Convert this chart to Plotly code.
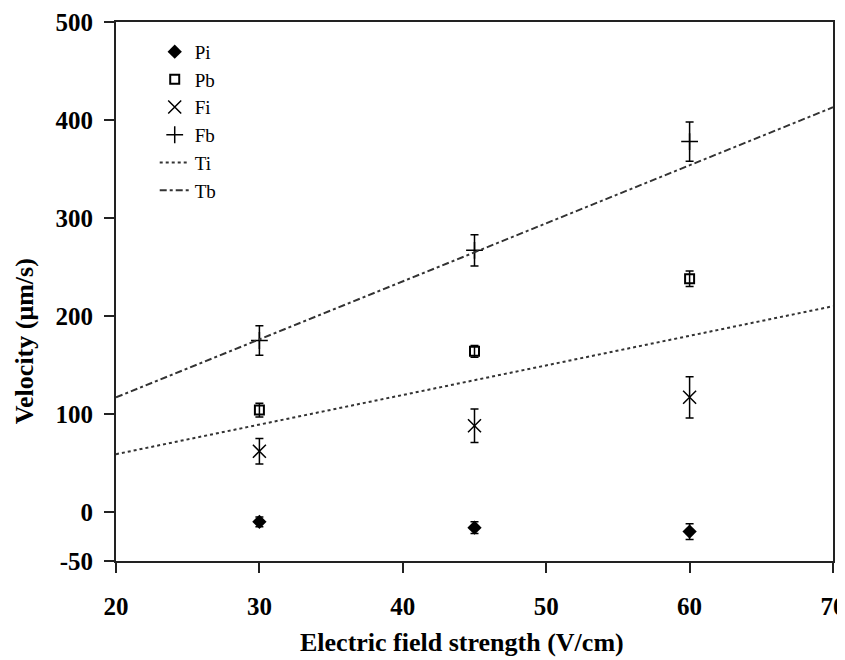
import plotly.graph_objects as go

field = [30, 45, 60]
pi_vals = [-10, -16, -20]
pi_err = [5, 6, 8]
pb_vals = [104, 164, 238]
pb_err = [7, 6, 8]
fi_vals = [62, 88, 117]
fi_err = [13, 17, 21]
fb_vals = [175, 267, 378]
fb_err = [15, 16, 20]
line_x = [20, 70]
ti_vals = [59, 210]
tb_vals = [117, 413]
x_ticks = [20, 30, 40, 50, 60, 70]
y_ticks = [-50, 0, 100, 200, 300, 400, 500]
y_tick_text = ["-50", "0", "100", "200", "300", "400", "500"]

FONT = "Liberation Serif"
fig = go.Figure()

def pts(name, y, err, symbol, size, lw=1.5):
    fig.add_trace(go.Scatter(
        x=field, y=y, mode="markers", name=name,
        marker=dict(symbol=symbol, size=size, color="black",
                    line=dict(color="black", width=lw)),
        error_y=dict(type="data", array=err, color="black", thickness=1.5, width=4),
    ))

pts("Pi", pi_vals, pi_err, "diamond", 11, 0)
pts("Pb", pb_vals, pb_err, "square-open", 9, 2)
pts("Fi", fi_vals, fi_err, "x-thin-open", 13, 1.5)
pts("Fb", fb_vals, fb_err, "cross-thin-open", 12, 1.5)

fig.add_trace(go.Scatter(x=line_x, y=ti_vals, mode="lines", name="Ti",
                         line=dict(color="#333333", width=2, dash="3px,3px")))
fig.add_trace(go.Scatter(x=line_x, y=tb_vals, mode="lines", name="Tb",
                         line=dict(color="#333333", width=2, dash="7px,3px,3px,3px")))

bold = dict(family=FONT, size=25, color="black", weight="bold")
axis_common = dict(showline=True, linecolor="#222222", linewidth=2, mirror=True,
                   ticks="outside", ticklen=10, tickwidth=1.5, tickcolor="#222222",
                   showgrid=False, zeroline=False, automargin=False,
                   ticklabeloverflow="allow", tickfont=bold)

fig.update_layout(
    width=837, height=652,
    margin=dict(l=108, r=12, t=14, b=99),
    paper_bgcolor="white", plot_bgcolor="white",
    xaxis=dict(range=[20, 70], tickvals=x_ticks, ticklabelstandoff=12,
               **axis_common),
    yaxis=dict(range=[-50, 500], tickvals=y_ticks, ticktext=y_tick_text,
               ticklabelstandoff=6, **axis_common),
    legend=dict(x=0.054, y=0.98, xanchor="left", yanchor="top",
                bgcolor="rgba(0,0,0,0)",
                font=dict(family=FONT, size=19, color="black"),
                itemwidth=30, tracegroupgap=0),
    showlegend=True,
    annotations=[
        dict(text="Electric field strength (V/cm)", xref="paper", yref="paper",
             x=0.483, y=-0.152, xanchor="center", yanchor="middle",
             showarrow=False, font=dict(family=FONT, size=26, color="black", weight="bold")),
        dict(text="Velocity (μm/s)", xref="paper", yref="paper",
             x=-0.128, y=0.408, xanchor="center", yanchor="middle", textangle=-90,
             showarrow=False, font=dict(family=FONT, size=26, color="black", weight="bold")),
    ],
)

fig.write_html("out.html")
